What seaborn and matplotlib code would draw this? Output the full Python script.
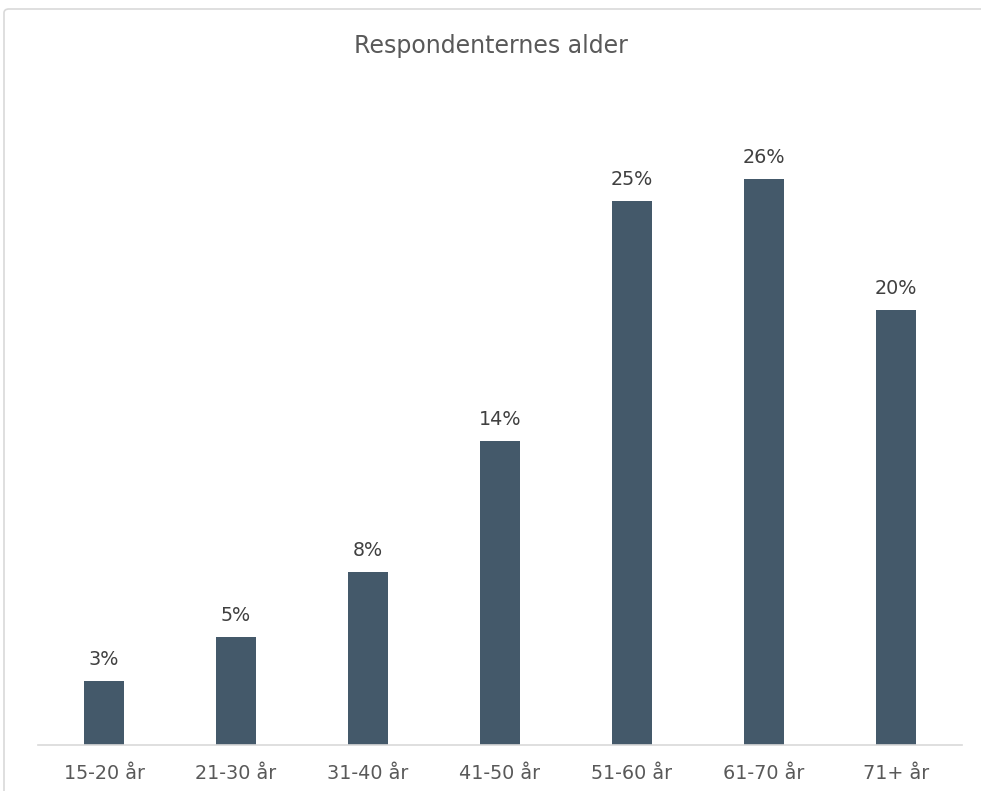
import matplotlib
matplotlib.use("Agg")
import matplotlib.pyplot as plt
import seaborn as sns
import pandas as pd
from matplotlib.patches import FancyBboxPatch

categories = ["15-20 år", "21-30 år", "31-40 år", "41-50 år", "51-60 år", "61-70 år", "71+ år"]
values = [2.95, 4.98, 7.97, 14.0, 25.07, 26.08, 20.05]
labels = ["3%", "5%", "8%", "14%", "25%", "26%", "20%"]
title = "Respondenternes alder"

df = pd.DataFrame({"alder": categories, "andel": values})

sns.set_theme(style="white")
plt.rcParams['font.family'] = ['DejaVu Sans']

W, H = 981, 791
fig = plt.figure(figsize=(W / 100, H / 100), dpi=100)

# chart frame
frame = FancyBboxPatch((4 / W, -0.05), 1.2, (H - 9) / H + 0.05,
                       boxstyle="round,pad=0,rounding_size=0.005",
                       transform=fig.transFigure, facecolor="none",
                       edgecolor="#D9D9D9", linewidth=1.2, zorder=-1)
fig.patches.append(frame)

ax_left, ax_right = 38, 962
ax_bottom, ymax = 745, 30
px_per = 21.7
ax_top = ax_bottom - ymax * px_per
ax = fig.add_axes([ax_left / W, (H - ax_bottom) / H,
                   (ax_right - ax_left) / W, (ax_bottom - ax_top) / H])
ax.set_facecolor("none")

sns.barplot(data=df, x="alder", y="andel", color="#44596A", width=0.31,
            saturation=1, linewidth=0, ax=ax)
ax.set_ylim(0, ymax)
ax.set_xlim(-0.5, len(categories) - 0.5)

for i, (v, lab) in enumerate(zip(values, labels)):
    ax.annotate(lab, (i, v), xytext=(0, 8.5), textcoords="offset points",
                ha="center", va="bottom", fontsize=13.8, color="#404040")

for s in ["top", "right", "left"]:
    ax.spines[s].set_visible(False)
ax.spines["bottom"].set_color("#D9D9D9")
ax.spines["bottom"].set_linewidth(1.2)
ax.set_yticks([])
ax.set_xlabel("")
ax.set_ylabel("")
ax.tick_params(axis="x", length=0, pad=13.5, labelsize=13.8, labelcolor="#595959")

fig.text(0.5, (H - 46) / H, title, ha="center", va="center",
         fontsize=17, color="#595959")

fig.savefig("out.png", dpi=100)
